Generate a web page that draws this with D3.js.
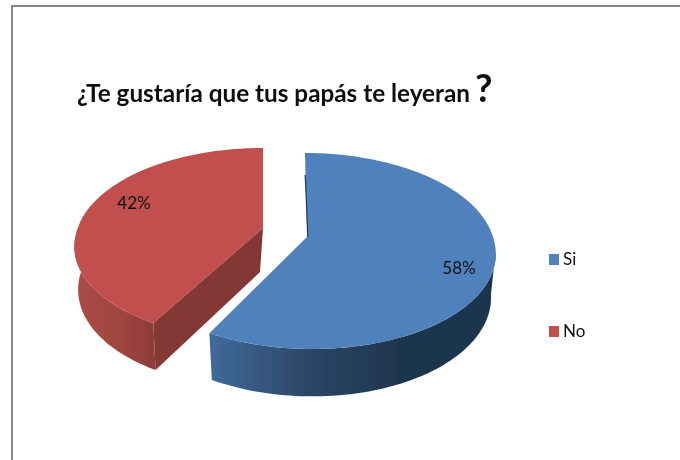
<!DOCTYPE html>
<html>
<head>
<meta charset="utf-8">
<script src="https://cdn.jsdelivr.net/npm/d3@7"></script>
<style>
  html, body { margin: 0; padding: 0; background: #fff; }
  svg { display: block; }
  text { font-family: "Lato", "Open Sans", sans-serif; fill: #111; }
</style>
</head>
<body>
<div id="chart"></div>
<script>
var categories = ['Si', 'No'];
var shares = [58, 42];
var topColors = ['#4F81BD', '#C0504D'];
var titleText = '¿Te gustaría que tus papás te leyeran';

var width = 680,
    height = 460,
    // each slice is pulled away from the middle, so each has its own view
    views = [
      {x: 307, y: 237, rx: 186, ry: 96, persp: 1 / 7, depth: 43, shrink: 0.975, skewNear: 5.5, skewFar: 2},
      {x: 263, y: 228, rx: 185, ry: 93, persp: 0.1626, depth: 42, shrink: 0.98, skewNear: -6.5, skewFar: 0}
    ];

var svg = d3.select('#chart').append('svg')
    .attr('width', width)
    .attr('height', height);

var defs = svg.append('defs');

function wallGradient(id, stops) {
  var g = defs.append('linearGradient').attr('id', id)
      .attr('gradientUnits', 'userSpaceOnUse')
      .attr('x1', stops.x1).attr('x2', stops.x2).attr('y1', 0).attr('y2', 0);
  stops.colors.forEach(function(c, i) {
    g.append('stop')
     .attr('offset', i / (stops.colors.length - 1))
     .attr('stop-color', c);
  });
}
wallGradient('wallBlue', {x1: 212, x2: 400, colors: ['#41699A', '#2C4767', '#1F3550']});
wallGradient('wallRed', {x1: 78, x2: 158, colors: ['#A94C47', '#A0463F', '#8C3B38']});

// the reference image is a soft upscale
defs.append('filter').attr('id', 'soft')
    .append('feGaussianBlur').attr('stdDeviation', 0.35);

var root = svg.append('g').attr('filter', 'url(#soft)');

root.append('rect')
   .attr('width', width).attr('height', height)
   .attr('fill', '#fff');

// frame round the chart area
root.append('path')
   .attr('d', d3.line()([[12, 460], [12, 6], [680, 6]]))
   .attr('fill', 'none')
   .attr('stroke', '#868686')
   .attr('stroke-width', 2);

// title
var title = root.append('text')
   .attr('x', 77)
   .attr('y', 102)
   .attr('font-size', 24.3)
   .attr('font-weight', 700)
   .text(titleText);
title.append('tspan')
   .attr('font-size', 38)
   .attr('dx', 5)
   .text('?');

// flat circle with a bit of perspective: the near side is larger
function project(angle, view, low) {
  var u = Math.sin(angle),
      v = -Math.cos(angle),
      k = 1 / (1 - view.persp * v),
      s = low ? view.shrink : 1,
      skew = (v > 0 ? view.skewNear : view.skewFar) * v;
  return [
    view.x + (view.rx * u * k + skew) * s,
    view.y + view.ry * v * k * s + (low ? view.depth * k : 0)
  ];
}

function arcPoints(a0, a1, view, low) {
  var n = Math.max(2, Math.ceil(Math.abs(a1 - a0) * 40));
  return d3.range(n + 1).map(function(i) {
    return project(a0 + (a1 - a0) * i / n, view, low);
  });
}

var line = d3.line();
var pie = d3.pie().sort(null);
var slices = pie(shares);

// red slice first, it sits behind the blue one
[1, 0].forEach(function(i) {
  var d = slices[i],
      view = views[i],
      g = root.append('g').attr('class', 'slice');

  if (i === 1) {
    // cut face running from the apex to the near tip
    var tip = project(d.startAngle, view, false),
        tipLow = project(d.startAngle, view, true);
    g.append('path')
     .attr('d', line([[view.x, view.y], tip, tipLow, [view.x - 3, view.y + 44]]) + 'Z')
     .attr('fill', '#843734');
    // outer wall, only the part facing the viewer
    var from = d.startAngle, to = 1.5 * Math.PI + 0.14;
    g.append('path')
     .attr('d', line(arcPoints(from, to, view, false).concat(arcPoints(to, from, view, true))) + 'Z')
     .attr('fill', 'url(#wallRed)');
  } else {
    var from0 = Math.PI / 2 + 0.14, to0 = d.endAngle;
    g.append('path')
     .attr('d', line(arcPoints(from0, to0, view, false).concat(arcPoints(to0, from0, view, true))) + 'Z')
     .attr('fill', 'url(#wallBlue)');
  }

  g.append('path')
   .attr('d', line([[view.x, view.y]].concat(arcPoints(d.startAngle, d.endAngle, view, false))) + 'Z')
   .attr('fill', topColors[i]);

  if (i === 0) {
    // thin dark edge of the cut face at the back, over the blue top
    g.append('path')
     .attr('d', line([[view.x + 0.4, view.y], [view.x - 2.4, view.y - 62], [view.x - 1.2, view.y - 62], [view.x + 1.4, view.y]]) + 'Z')
     .attr('fill', '#1F3550');
  }
});

// value labels
var labelSpots = [[459, 268], [134, 203]];
root.selectAll('text.value')
   .data(shares)
   .enter().append('text')
   .attr('class', 'value')
   .attr('x', function(d, i) { return labelSpots[i][0]; })
   .attr('y', function(d, i) { return labelSpots[i][1] + 6; })
   .attr('text-anchor', 'middle')
   .attr('font-size', 17)
   .text(function(d) { return d + '%'; });

// legend
var legendY = d3.scalePoint().domain(categories).range([259, 331]);
var legend = root.selectAll('g.legend')
   .data(categories)
   .enter().append('g')
   .attr('class', 'legend')
   .attr('transform', function(d) { return 'translate(549,' + legendY(d) + ')'; });
legend.append('rect')
   .attr('x', 0).attr('y', -5)
   .attr('width', 10).attr('height', 11)
   .attr('fill', function(d, i) { return topColors[i]; });
legend.append('text')
   .attr('x', 14)
   .attr('y', 6)
   .attr('font-size', 17)
   .text(function(d) { return d; });
</script>
</body>
</html>
